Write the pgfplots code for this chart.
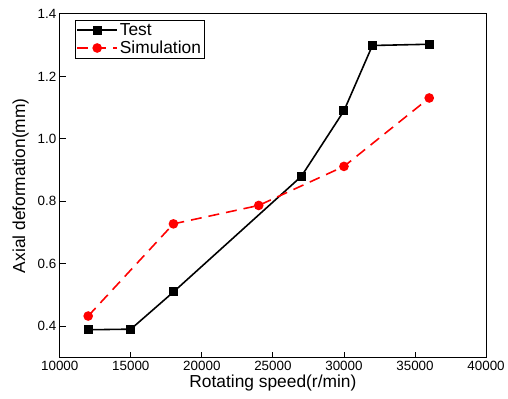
\documentclass[border=0pt]{standalone}
\usepackage{pgfplots}
\pgfplotsset{compat=1.18}
\usepackage{fontspec}
\setmainfont{Liberation Sans}

\begin{document}
\begin{tikzpicture}
\begin{axis}[
    scale only axis,
    width=428bp, height=345bp,
    xmin=10000, xmax=40000,
    ymin=0.3, ymax=1.4,
    xtick={10000,15000,...,40000},
    ytick={0.4,0.6,...,1.4},
    tick pos=left,
    tick align=inside,
    major tick length=6bp,
    axis line style={line width=0.9pt},
    tick style={line width=0.9pt, black},
    /pgf/number format/assume math mode=true,
    /pgf/number format/1000 sep={},
    yticklabel style={/pgf/number format/fixed, /pgf/number format/precision=1, /pgf/number format/fixed zerofill},
    scaled x ticks=false,
    ticklabel style={font=\fontsize{13.5}{15}\selectfont},
    xlabel={Rotating speed(r/min)},
    ylabel={Axial deformation(mm)},
    label style={font=\fontsize{17.5}{19}\selectfont},
    xlabel style={yshift=2bp},
    ylabel style={yshift=2bp},
    legend style={at={(0.035,0.983)}, anchor=north west, font=\fontsize{17.5}{19}\selectfont,
        draw=black, line width=0.6pt, inner sep=1.5pt, row sep=0pt},
    legend cell align=left,
    legend image code/.code={\draw[mark repeat=2, mark phase=2, #1, line width=1.6pt] plot coordinates {(0bp,0bp) (20bp,0bp) (40bp,0bp)};},
]
\addplot[black, line width=1.6pt, mark=square*, mark size=3.7bp, mark options={solid}]
  coordinates {(12000,0.389) (15000,0.391) (18000,0.510) (27000,0.880) (30000,1.090) (32000,1.299) (36000,1.303)};
\addlegendentry{Test}
\addplot[red, line width=1.6pt, dash pattern=on 11bp off 7bp, mark=*, mark size=4bp, mark options={solid}]
  coordinates {(12000,0.433) (18000,0.728) (24000,0.787) (30000,0.912) (36000,1.131)};
\addlegendentry{Simulation}
\end{axis}
\path ([xshift=-60bp, yshift=-41bp]current axis.south west) ([xshift=20bp, yshift=14bp]current axis.north east);
\end{tikzpicture}
\end{document}
